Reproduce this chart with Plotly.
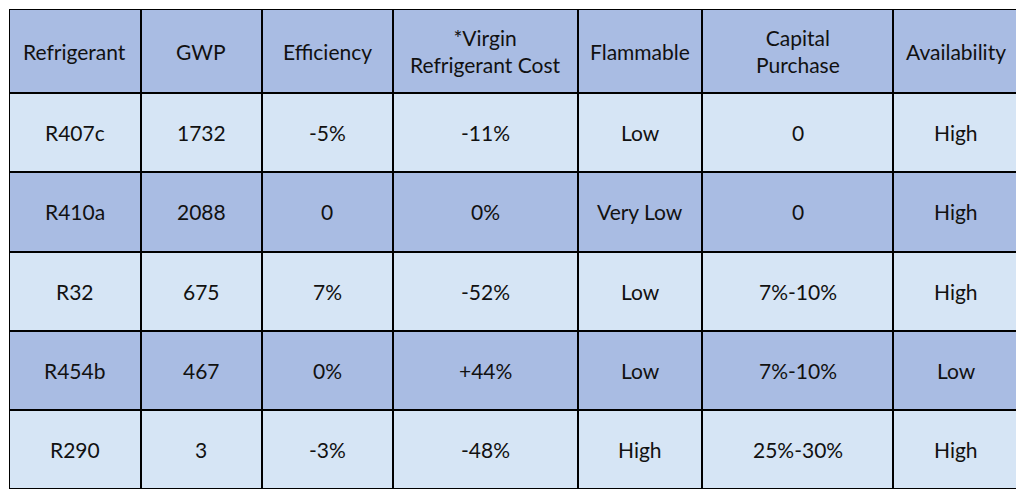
import plotly.graph_objects as go

headers = ["Refrigerant", "GWP", "Efficiency", "*Virgin<br>Refrigerant Cost", "Flammable", "Capital<br>Purchase", "Availability"]
refrigerant = ["R407c", "R410a", "R32", "R454b", "R290"]
gwp = ["1732", "2088", "675", "467", "3"]
efficiency = ["-5%", "0", "7%", "0%", "-3%"]
virgin_cost = ["-11%", "0%", "-52%", "+44%", "-48%"]
flammable = ["Low", "Very Low", "Low", "Low", "High"]
capital = ["0", "0", "7%-10%", "7%-10%", "25%-30%"]
availability = ["High", "High", "High", "Low", "High"]

col_widths = [132, 121, 131, 186, 124, 191, 126]
row_heights = [84, 79, 79, 79, 79, 79]

columns = [refrigerant, gwp, efficiency, virgin_cost, flammable, capital, availability]
rows = [headers] + [[c[i] for c in columns] for i in range(len(refrigerant))]

xe = [0]
for w in col_widths:
    xe.append(xe[-1] + w)
ye = [0]
for h in row_heights:
    ye.append(ye[-1] + h)

z = [[1 if (r == 0 or r % 2 == 0) else 0 for _ in col_widths] for r in range(len(rows))]

fig = go.Figure(go.Heatmap(
    x=xe, y=ye, z=z, xgap=2, ygap=2, showscale=False, hoverinfo="skip",
    colorscale=[[0, "#D6E5F5"], [1, "#A9BCE3"]], zmin=0, zmax=1))

for r, row in enumerate(rows):
    for c, txt in enumerate(row):
        fig.add_annotation(x=(xe[c] + xe[c+1]) / 2, y=(ye[r] + ye[r+1]) / 2,
                           text=txt, showarrow=False,
                           font=dict(family="Lato, sans-serif", size=21, color="#111111"))

fig.add_shape(type="rect", x0=0, x1=xe[-1], y0=0, y1=ye[-1],
              line=dict(color="black", width=2))

fig.update_layout(
    width=1012, height=482, margin=dict(l=1, r=1, t=1, b=1),
    paper_bgcolor="white", plot_bgcolor="black",
    xaxis=dict(range=[0, xe[-1]], visible=False, fixedrange=True),
    yaxis=dict(range=[ye[-1], 0], visible=False, fixedrange=True),
)
fig.write_html("out.html", config={"displayModeBar": False})
